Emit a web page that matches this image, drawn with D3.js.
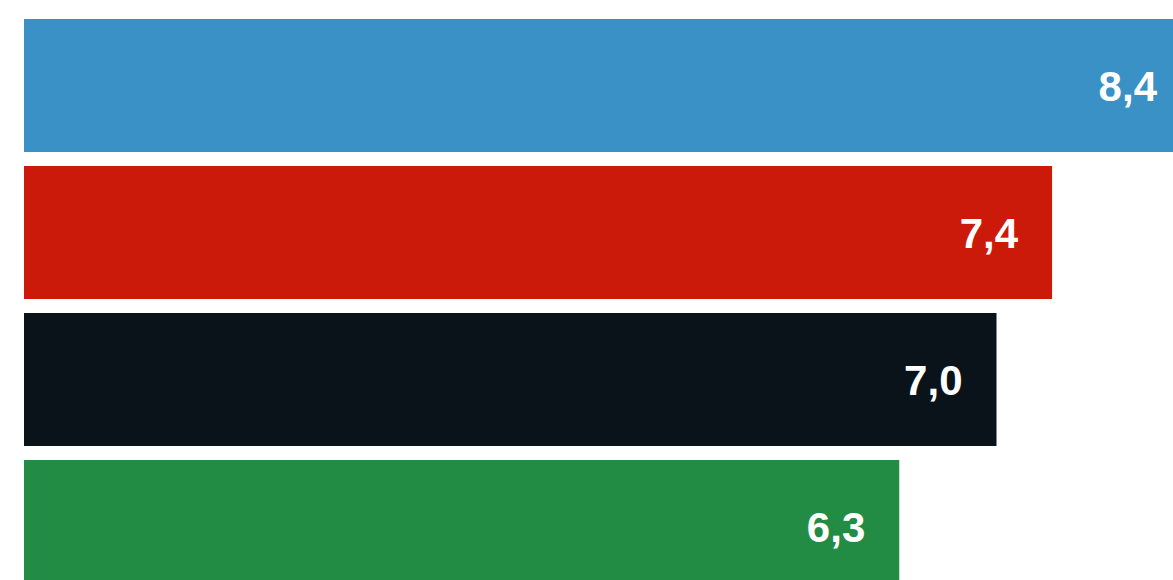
<!DOCTYPE html>
<html>
<head>
<meta charset="utf-8">
<script src="https://cdn.jsdelivr.net/npm/d3@7"></script>
<style>
html,body{margin:0;padding:0;background:#fff;overflow:hidden;}
svg{display:block;}
</style>
</head>
<body>
<svg id="chart" width="1173" height="580"></svg>
<script>
const categories = ["A", "B", "C", "D"];
const values = [8.4, 7.4, 7.0, 6.3];
const labels = ["8,4", "7,4", "7,0", "6,3"];
const colors = ["#3991c5", "#cc1a0a", "#0a121a", "#228c45"];

const svg = d3.select("#chart");
const left = 24;
const x = d3.scaleLinear().domain([0, 8.4]).range([0, 1167]);
const y = d3.scaleBand().domain(categories).range([19, 593]).paddingInner(14/147).paddingOuter(0);

const g = svg.append("g").attr("transform", `translate(${left},0)`);

g.selectAll("rect").data(values).join("rect")
  .attr("x", 0)
  .attr("y", (d,i) => y(categories[i]))
  .attr("width", d => x(d))
  .attr("height", y.bandwidth())
  .attr("fill", (d,i) => colors[i]);

g.selectAll("text").data(values).join("text")
  .attr("x", d => x(d) - 34)
  .attr("y", (d,i) => y(categories[i]) + y.bandwidth()/2 + 15)
  .attr("text-anchor", "end")
  .attr("fill", "#fff")
  .attr("font-family", "'Liberation Sans', Arial, sans-serif")
  .attr("font-weight", "bold")
  .attr("font-size", "42px")
  .text((d,i) => labels[i]);
</script>
</body>
</html>
